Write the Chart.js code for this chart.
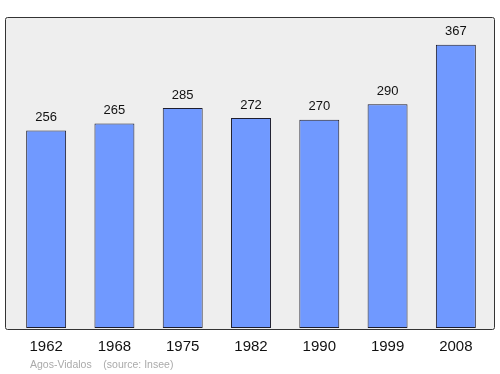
<!DOCTYPE html>
<html lang="fr">
<head>
    <meta charset="UTF-8">
    <title>Agos-Vidalos population</title>
    <script src="https://cdn.jsdelivr.net/npm/chart.js"></script>
    <style>
        html, body { margin: 0; padding: 0; background: #fff; }
        #wrap { width: 500px; height: 374px; }
    </style>
</head>
<body>
<div id="wrap"><canvas id="popChart" width="500" height="374"></canvas></div>
<script>
    const years = ["1962", "1968", "1975", "1982", "1990", "1999", "2008"];
    const population = [256, 265, 285, 272, 270, 290, 367];
    const footerText = "Agos-Vidalos    (source: Insee)";

    // grey panel behind the bars
    const panelPlugin = {
        id: "panel",
        beforeDraw(chart) {
            const ctx = chart.ctx;
            ctx.save();
            ctx.beginPath();
            ctx.roundRect(5.5, 17.5, 489, 312, 2);
            ctx.fillStyle = "#eeeeee";
            ctx.fill();
            ctx.lineWidth = 1;
            ctx.strokeStyle = "#333";
            ctx.stroke();
            ctx.restore();
        },
        afterDatasetsDraw(chart) {
            const ctx = chart.ctx;
            const meta = chart.getDatasetMeta(0);
            ctx.save();
            ctx.font = "13px 'Liberation Sans', Arial, sans-serif";
            ctx.fillStyle = "#111";
            ctx.textAlign = "center";
            ctx.textBaseline = "middle";
            meta.data.forEach((bar, i) => {
                ctx.fillText(population[i], bar.x, bar.y - 13);
            });
            ctx.font = "10.5px 'Liberation Sans', Arial, sans-serif";
            ctx.fillStyle = "#aaaaaa";
            ctx.textAlign = "left";
            ctx.fillText(footerText, 30, 365);
            ctx.restore();
        }
    };

    new Chart(document.getElementById("popChart"), {
        type: "bar",
        data: {
            labels: years,
            datasets: [{
                data: population,
                backgroundColor: "#7099ff",
                borderColor: "#1e1e2e",
                borderWidth: 1,
                borderSkipped: false,
                categoryPercentage: 1,
                barPercentage: 0.585
            }]
        },
        options: {
            responsive: false,
            animation: false,
            layout: { padding: { left: 12, right: 10, top: 17, bottom: 8 } },
            plugins: { legend: { display: false }, tooltip: { enabled: false } },
            scales: {
                x: {
                    grid: { display: false, drawTicks: false },
                    border: { display: false },
                    ticks: {
                        color: "#111",
                        padding: 10,
                        font: { family: "'Liberation Sans', Arial, sans-serif", size: 15 }
                    }
                },
                y: { display: false, min: 0, max: 403 }
            }
        },
        plugins: [panelPlugin]
    });
</script>
</body>
</html>
